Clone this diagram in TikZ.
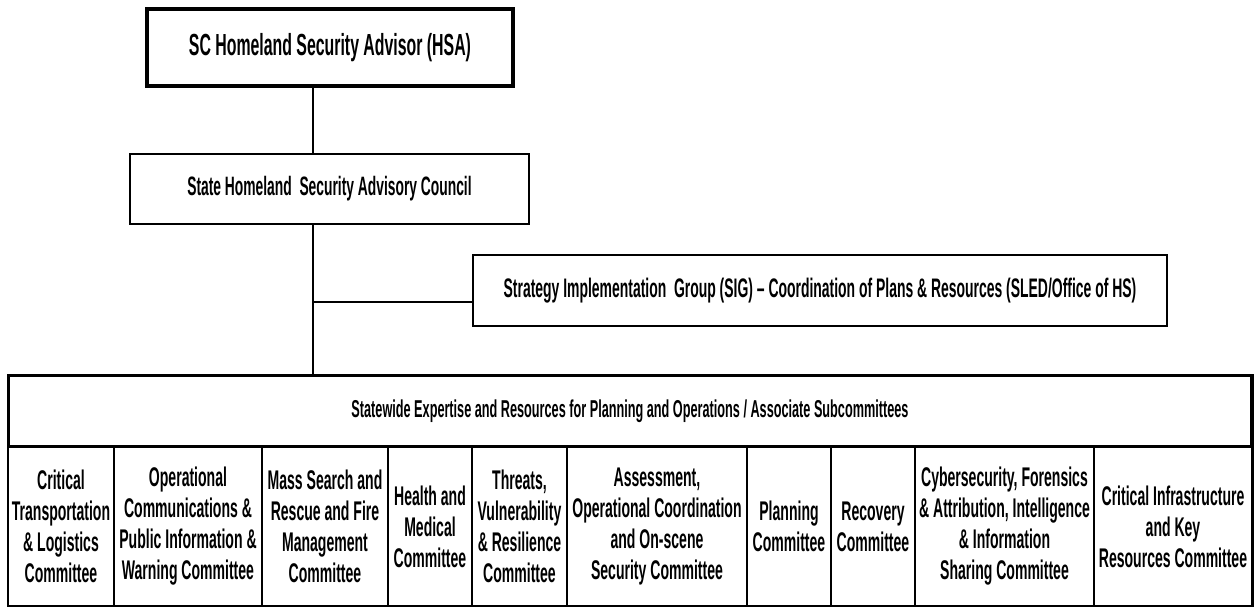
\documentclass[tikz,border=0pt]{standalone}
\usepackage{fontspec}
\newfontfamily\nar[FakeStretch=0.52]{Liberation Sans Bold}
\begin{document}
\begin{tikzpicture}[x=1pt,y=-1pt,
  box/.style={draw=black, line width=2.5pt, fill=white, inner sep=0pt, align=center},
  cell/.style={draw=black, line width=2pt, inner sep=0pt, align=center, minimum height=159pt,
    font=\nar\fontsize{27}{31}\selectfont},
  conn/.style={draw=black, line width=2pt}]
\useasboundingbox[fill=white] (0,0) rectangle (1254,607);

\node[box, line width=4pt, minimum width=366pt, minimum height=77pt,
  font=\nar\fontsize{30.5}{32}\selectfont] (hsa) at (330,47.5) {\raisebox{3pt}{SC Homeland Security Advisor (HSA)}};
\node[box, minimum width=399pt, minimum height=70pt,
  font=\nar\fontsize{26.6}{30}\selectfont] (council) at (329.5,189) {State Homeland\ \ Security Advisory Council};
\node[box, minimum width=694pt, minimum height=71pt,
  font=\nar\fontsize{26.8}{30}\selectfont] (sig) at (820,290.5) {Strategy Implementation\ \ Group (SIG) – Coordination of Plans \& Resources (SLED/Office of HS)};
\node[box, minimum width=1242pt, minimum height=70pt,
  font=\nar\fontsize{24.4}{30}\selectfont] (head) at (630,411) {Statewide Expertise and Resources for Planning and Operations / Associate Subcommittees};

\node[cell, minimum width=106pt] (c1) at (61,526.5) {Critical\\Transportation\\\& Logistics\\Committee};
\node[cell, minimum width=148pt] (c2) at (188,526.5) {Operational\\Communications \&\\Public Information \&\\Warning Committee};
\node[cell, minimum width=126pt] (c3) at (325,526.5) {Mass Search and\\Rescue and Fire\\Management\\Committee};
\node[cell, minimum width=84pt] (c4) at (430,526.5) {Health and\\Medical\\Committee};
\node[cell, minimum width=95pt] (c5) at (519.5,526.5) {Threats,\\Vulnerability\\\& Resilience\\Committee};
\node[cell, minimum width=180pt] (c6) at (657,526.5) {Assessment,\\Operational Coordination\\and On-scene\\Security Committee};
\node[cell, minimum width=84pt] (c7) at (789,526.5) {Planning\\Committee};
\node[cell, minimum width=84pt] (c8) at (873,526.5) {Recovery\\Committee};
\node[cell, minimum width=179pt] (c9) at (1004.5,526.5) {Cybersecurity, Forensics\\\& Attribution, Intelligence\\\& Information\\Sharing Committee};
\node[cell, minimum width=158pt] (c10) at (1173,526.5) {Critical Infrastructure\\and Key\\Resources Committee};
\draw[line width=2.5pt] (head.north west) rectangle (c10.south east);

\coordinate (trunk) at (313,0);
\coordinate (br) at (313,302);
\draw[conn] (hsa.south -| trunk) -- (council.north -| trunk);
\draw[conn] (council.south -| trunk) -- (head.north -| trunk);
\draw[conn] (br) -- (br -| sig.west);
\end{tikzpicture}
\end{document}
